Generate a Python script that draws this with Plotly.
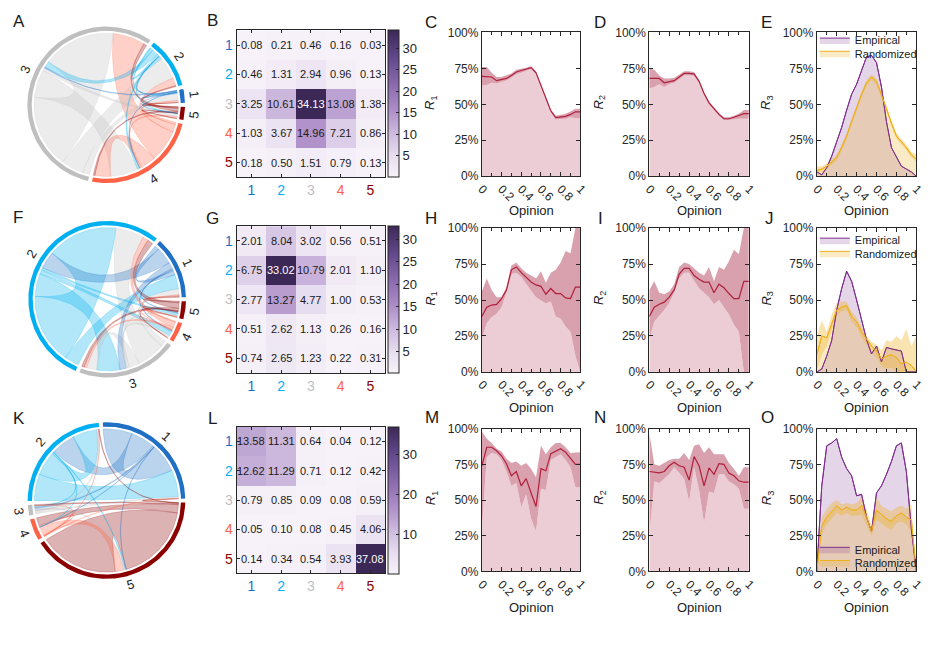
import numpy as np
import plotly.graph_objects as go

W, H = 944, 646
FONT = "Liberation Sans, Arial, sans-serif"
INK = "#262626"

# ---------------- data ----------------
groups = ["1", "2", "3", "4", "5"]
group_colors = ["#1f6fc5", "#00b0f0", "#bfbfbf", "#ff6347", "#8b0000"]

mat_B = [[0.08, 0.21, 0.46, 0.16, 0.03],
         [0.46, 1.31, 2.94, 0.96, 0.13],
         [3.25, 10.61, 34.13, 13.08, 1.38],
         [1.03, 3.67, 14.96, 7.21, 0.86],
         [0.18, 0.50, 1.51, 0.79, 0.13]]
mat_G = [[2.01, 8.04, 3.02, 0.56, 0.51],
         [6.75, 33.02, 10.79, 2.01, 1.10],
         [2.77, 13.27, 4.77, 1.00, 0.53],
         [0.51, 2.62, 1.13, 0.26, 0.16],
         [0.74, 2.65, 1.23, 0.22, 0.31]]
mat_L = [[13.58, 11.31, 0.64, 0.04, 0.12],
         [12.62, 11.29, 0.71, 0.12, 0.42],
         [0.79, 0.85, 0.09, 0.08, 0.59],
         [0.05, 0.10, 0.08, 0.45, 4.06],
         [0.14, 0.34, 0.54, 3.93, 37.08]]
cbar_ticks_B = [5, 10, 15, 20, 25, 30]
cbar_ticks_G = [5, 10, 15, 20, 25, 30]
cbar_ticks_L = [10, 20, 30]

pct_ticks = [0, 25, 50, 75, 100]
pct_labels = ["0%", "25%", "50%", "75%", "100%"]

opinion = [0, 0.05, 0.1, 0.15, 0.2, 0.25, 0.3, 0.35, 0.4, 0.45, 0.5,
           0.55, 0.6, 0.65, 0.7, 0.75, 0.8, 0.85, 0.9, 0.95, 1.0]

C_mean = [69.5, 69.5, 69, 66.5, 67, 68, 70, 72.5, 73.5, 74.5, 75.5, 72, 63, 54, 45.5, 40.7, 41, 41.6, 43, 44.8, 44.8]
C_up = [76, 76, 72, 69, 69, 70, 71.5, 74, 74.5, 75.5, 76.5, 73, 64, 55, 46.5, 42, 42.5, 43.5, 45, 47, 47]
C_lo = [63, 63.5, 65, 64.5, 65.5, 66.5, 68.5, 71, 72, 73, 74.5, 71, 62, 53, 44.5, 39.5, 39.5, 40, 41, 40.5, 40]

D_mean = [68, 68, 68, 65, 66, 66.5, 69, 71.5, 71.5, 71, 66, 57.5, 51, 47, 43, 40, 40, 41, 42, 43.5, 43.5]
D_up = [75, 74, 70, 68, 68, 68.5, 70.5, 73, 73, 72.5, 67, 58.5, 52, 48, 44, 41, 41, 42, 43.5, 46, 46]
D_lo = [61, 62, 64, 62, 64, 65, 67.5, 70, 70, 70, 65, 56.5, 50, 46, 42, 39, 39, 39.5, 40, 40, 40]

E_emp = [3, 1, 6, 14, 24, 34, 46, 57, 64, 73, 83, 84, 79, 62, 38, 20, 13, 7, 5, 3, 0]
E_rnd = [4, 5, 7, 10, 13, 20, 28, 38, 48, 57, 65, 69, 66, 57, 47, 37, 28, 24, 20, 15, 12]
E_rnd_up = [7, 7, 9, 12, 15, 22, 30, 40, 50, 59, 67, 71, 68, 59, 49, 39, 30, 26, 22, 17, 15]
E_rnd_lo = [2, 3, 5, 8, 11, 18, 26, 36, 46, 55, 63, 67, 64, 55, 45, 35, 26, 22, 18, 13, 10]

H_mean = [38.5, 45, 46.5, 47, 51, 57, 71, 73, 69, 65.5, 62.5, 60.5, 59.5, 54, 58, 54.5, 54.5, 51.5, 51, 59, 59]
H_up = [56, 65, 57, 52, 52, 59, 74, 76, 72, 69, 67, 65, 70, 62, 69, 71, 76, 84, 82.5, 100, 100]
H_lo = [23, 34, 38, 40.5, 45, 55, 68, 69, 66, 61, 56.5, 52, 49.5, 47.5, 49, 38.5, 37, 31.5, 28, 11, 0]

I_mean = [38.5, 45, 47, 48.5, 52, 57, 68, 72, 72, 67, 64.5, 62.5, 62.5, 55, 61, 58.5, 54.5, 51, 51, 63, 63]
I_up = [57, 63, 55, 54, 56, 61, 73, 76, 75, 72, 69, 67, 73, 63, 73, 71, 77, 85, 82, 100, 100]
I_lo = [23, 35, 39, 43, 48, 55, 65, 69, 69, 63, 58, 55, 52, 47, 50, 45, 40, 33, 28, 0, 0]

J_emp = [0, 2, 11, 22, 43, 58, 70, 63, 50, 36, 22.5, 12.5, 18, 7, 17, 16, 15, 14.5, 0, 0, 0]
J_rnd = [12, 25, 23.7, 33, 43, 45, 46, 38.5, 35, 28, 22.6, 18, 14.7, 9, 11, 12, 10, 5.6, 6.8, 4.5, 0.5]
J_rnd_up = [25, 36, 28, 40, 48, 49, 49, 42, 38, 31, 25, 21, 19, 15, 22, 21, 25, 22, 30, 18, 25]
J_rnd_lo = [0, 12, 18, 28, 39, 42, 43, 35, 31, 24, 19, 14, 10, 4, 2, 3, 0, 0, 0, 0, 0]

M_mean = [74, 87, 87, 84.5, 81, 75.5, 67, 70, 60, 65, 55, 45.5, 72, 70.5, 82.5, 84, 86, 83.5, 79, 75, 75]
M_up = [98, 93, 90, 86, 84, 79, 76, 77, 74, 76, 72, 66, 88, 82, 87, 90, 90, 87, 83, 83.5, 83.5]
M_lo = [30, 80, 83, 82, 78, 70, 60, 62, 45, 54, 37, 28, 58, 57, 78, 80, 82, 78, 73, 59, 59]

N_mean = [70, 69.5, 69, 70, 74, 76.5, 74, 73, 64, 80.5, 74, 60, 72.5, 68, 75.5, 75, 69, 67, 63.5, 62.5, 62.5]
N_up = [97, 75, 74, 76, 78, 79, 79, 83, 78, 88, 89, 83, 87, 82, 82, 82, 76, 72, 67, 73, 73]
N_lo = [25, 63, 62, 65, 68, 73, 69, 65, 49, 73, 57, 34, 56, 55, 68, 68, 63, 61, 58, 44, 44]

O_emp = [0, 60, 88, 90, 93, 80, 72, 67, 53, 54, 38, 28, 55, 60, 68, 77, 88, 90, 70, 30, 0]
O_rnd = [0, 32, 38, 42, 46, 43, 45, 43, 43, 46, 38, 28, 43, 40, 37, 35, 39, 41, 38, 36, 0]
O_rnd_up = [0, 38, 44, 48, 50, 47, 48, 47, 48, 52, 44, 32, 52, 46, 44, 42, 45, 46, 44, 47, 0]
O_rnd_lo = [0, 26, 33, 37, 41, 39, 41, 39, 39, 40, 33, 25, 36, 34, 31, 29, 34, 35, 33, 28, 0]

# ---------------- helpers ----------------
fig = go.Figure()
layout = {}
annotations = []
axn = [0]


def px2x(a, b):
    return [a / W, b / W]


def px2y(top, bot):
    return [1 - bot / H, 1 - top / H]


def new_axes(xd, yd, xopt, yopt):
    axn[0] += 1
    k = axn[0]
    sx = "" if k == 1 else str(k)
    layout["xaxis" + sx] = dict(domain=xd, anchor="y" + sx, **xopt)
    layout["yaxis" + sx] = dict(domain=yd, anchor="x" + sx, **yopt)
    return "x" + sx, "y" + sx


def rgba(hexc, a):
    h = hexc.lstrip("#")
    return "rgba(%d,%d,%d,%s)" % (int(h[0:2], 16), int(h[2:4], 16), int(h[4:6], 16), a)


def arc_pts(a1, a2, r):
    n = max(2, int(abs(a2 - a1) / 1.5) + 2)
    t = np.radians(np.linspace(a1, a2, n))
    return list(r * np.cos(t)), list(r * np.sin(t))


def bez(p0, p2, n=30):
    t = np.linspace(0, 1, n)
    x = (1 - t) ** 2 * p0[0] + t ** 2 * p2[0]
    y = (1 - t) ** 2 * p0[1] + t ** 2 * p2[1]
    return list(x), list(y)


def draw_chord(M, cx, cy):
    M = np.array(M, float)
    n = len(M)
    hid = dict(visible=False, range=[-1.25, 1.25], fixedrange=True)
    xr, yr = new_axes(px2x(cx - 100, cx + 100), px2y(cy - 100, cy + 100), hid, hid)
    seg = M.sum(1) + M.sum(0)
    gap = 3.0
    scale = (360 - n * gap) / seg.sum()
    starts = []
    a = gap / 2
    for i in range(n):
        starts.append(a)
        a += seg[i] * scale + gap
    pos = {}
    for i in range(n):
        cur = starts[i] + seg[i] * scale   # walk clockwise from the segment's far end
        for j in range(n):
            v = M[i, j] * scale
            pos[(i, j, "o")] = (cur - v, cur)
            cur -= v
        for j in range(n):
            v = M[j, i] * scale
            pos[(j, i, "i")] = (cur - v, cur)
            cur -= v
    R = 0.915

    def P(ang):
        return (R * np.cos(np.radians(ang)), R * np.sin(np.radians(ang)))
    pairs = sorted([(i, j) for i in range(n) for j in range(n)], key=lambda p: -M[p])
    for (i, j) in pairs:
        a1, a2 = pos[(i, j, "o")]
        b1, b2 = pos[(i, j, "i")]
        xs, ys = [], []
        for sp in (arc_pts(a1, a2, R), bez(P(a2), P(b1)), arc_pts(b1, b2, R), bez(P(b2), P(a1))):
            xs += sp[0]
            ys += sp[1]
        fig.add_trace(go.Scatter(x=xs, y=ys, mode="lines", fill="toself",
                                 fillcolor=rgba(group_colors[i], 0.3),
                                 line=dict(width=0.6, color=rgba(group_colors[i], 0.35)),
                                 hoverinfo="skip", showlegend=False, xaxis=xr, yaxis=yr))
    for i in range(n):
        s = starts[i]
        e = s + seg[i] * scale
        ox, oy = arc_pts(s, e, 1.0)
        ix, iy = arc_pts(e, s, 0.945)
        fig.add_trace(go.Scatter(x=ox + ix, y=oy + iy, mode="lines", fill="toself",
                                 fillcolor=group_colors[i], line=dict(width=0),
                                 hoverinfo="skip", showlegend=False, xaxis=xr, yaxis=yr))
        m = (s + e) / 2
        ang = (90 - m) if m < 180 else (270 - m)
        ang = ((ang + 180) % 360) - 180
        annotations.append(dict(x=1.12 * np.cos(np.radians(m)), y=1.12 * np.sin(np.radians(m)),
                                xref=xr, yref=yr, text=groups[i], showarrow=False,
                                textangle=ang, font=dict(size=13, color="#222")))


purple = [[0, "#f7f2f9"], [0.15, "#e6dcef"], [0.3, "#cdb9de"], [0.45, "#ae8fc8"],
          [0.6, "#9070b2"], [0.8, "#664a8f"], [1, "#3c2857"]]


def draw_heat(M, top, cticks):
    tt = ['<span style="color:%s">%s</span>' % (c, g) for g, c in zip(groups, group_colors)]
    ax = dict(showline=True, linecolor=INK, linewidth=1, mirror="ticks", ticks="inside",
              ticklen=3, tickcolor=INK, tickvals=[1, 2, 3, 4, 5], ticktext=tt,
              tickfont=dict(size=14), showgrid=False, zeroline=False, fixedrange=True)
    xr, yr = new_axes(px2x(234, 385), px2y(top, top + 150),
                      dict(ax, range=[0.5, 5.5]), dict(ax, range=[5.5, 0.5]))
    z = np.array(M)
    zmin, zmax = float(z.min()), float(z.max())
    fig.add_trace(go.Heatmap(z=M, x=[1, 2, 3, 4, 5], y=[1, 2, 3, 4, 5], colorscale=purple,
                             zmin=zmin, zmax=zmax, xaxis=xr, yaxis=yr, hoverinfo="skip",
                             colorbar=dict(x=388 / W, xanchor="left", y=1 - (top + 75) / H,
                                           yanchor="middle", len=150 / H, lenmode="fraction",
                                           thickness=11, thicknessmode="pixels",
                                           outlinewidth=1, outlinecolor=INK, ticks="inside",
                                           ticklen=3, tickcolor=INK, tickvals=cticks,
                                           tickfont=dict(size=13, color=INK), xpad=0, ypad=0)))
    for i in range(5):
        for j in range(5):
            v = M[i][j]
            annotations.append(dict(x=j + 1, y=i + 1, xref=xr, yref=yr, text="%.2f" % v,
                                    showarrow=False,
                                    font=dict(size=11, color="white" if v > 0.75 * zmax else "#1a1a1a")))


def line_axes(x0, x1, top, bot):
    common = dict(showline=True, linecolor=INK, linewidth=1, mirror="ticks", ticks="inside",
                  ticklen=4, tickcolor=INK, showgrid=False, zeroline=False,
                  tickfont=dict(size=12, color=INK), fixedrange=True)
    xopt = dict(common, range=[0, 1], tick0=0, dtick=0.2, tickangle=45,
                minor=dict(ticks="inside", ticklen=3, tick0=0, dtick=0.1, tickcolor=INK))
    yopt = dict(common, range=[0, 100], tickmode="array", tickvals=pct_ticks, ticktext=pct_labels)
    return new_axes(px2x(x0, x1), px2y(top, bot), xopt, yopt)


LIGHT = "#eccdd5"
BAND = "#d9a0ae"
RED = "#b01f3c"
PURP = "#7e2f8e"
ORNG = "#edb120"


def r_panel(ax, mean, up, lo):
    xr, yr = ax
    fig.add_trace(go.Scatter(x=opinion, y=lo, mode="lines", fill="tozeroy", fillcolor=LIGHT,
                             line=dict(width=0), hoverinfo="skip", showlegend=False, xaxis=xr, yaxis=yr))
    fig.add_trace(go.Scatter(x=opinion, y=up, mode="lines", fill="tonexty", fillcolor=BAND,
                             line=dict(width=0), hoverinfo="skip", showlegend=False, xaxis=xr, yaxis=yr))
    fig.add_trace(go.Scatter(x=opinion, y=mean, mode="lines", line=dict(width=1.2, color=RED),
                             hoverinfo="skip", showlegend=False, xaxis=xr, yaxis=yr))


def r3_panel(ax, emp, rnd, up, lo, leg_a, leg_b):
    xr, yr = ax
    fig.add_trace(go.Scatter(x=opinion, y=emp, mode="lines", fill="tozeroy",
                             fillcolor="rgba(126,47,142,0.2)", line=dict(width=1, color=PURP),
                             name="Empirical", legend=leg_a, hoverinfo="skip", xaxis=xr, yaxis=yr))
    fig.add_trace(go.Scatter(x=opinion, y=rnd, mode="lines", fill="tozeroy",
                             fillcolor="rgba(237,177,32,0.25)", line=dict(width=1, color=ORNG),
                             name="Randomized", legend=leg_b, hoverinfo="skip", xaxis=xr, yaxis=yr))
    fig.add_trace(go.Scatter(x=opinion, y=lo, mode="lines", line=dict(width=0),
                             hoverinfo="skip", showlegend=False, xaxis=xr, yaxis=yr))
    fig.add_trace(go.Scatter(x=opinion, y=up, mode="lines", fill="tonexty",
                             fillcolor="rgba(237,177,32,0.35)", line=dict(width=0),
                             hoverinfo="skip", showlegend=False, xaxis=xr, yaxis=yr))
    fig.add_trace(go.Scatter(x=opinion, y=emp, mode="lines", line=dict(width=1, color=PURP),
                             hoverinfo="skip", showlegend=False, xaxis=xr, yaxis=yr))
    fig.add_trace(go.Scatter(x=opinion, y=rnd, mode="lines", line=dict(width=1, color=ORNG),
                             hoverinfo="skip", showlegend=False, xaxis=xr, yaxis=yr))


# ---------------- build ----------------
draw_chord(mat_B, 101.7, 100)
draw_chord(mat_G, 102.7, 298.7)
draw_chord(mat_L, 102, 504.5)

draw_heat(mat_B, 24, cbar_ticks_B)
draw_heat(mat_G, 224, cbar_ticks_G)
draw_heat(mat_L, 429, cbar_ticks_L)

rows = [(26, 173), (226, 373), (431, 577)]
cols = [(483, 583), (653, 754), (823, 924)]

r_panel(line_axes(*cols[0], *rows[0]), C_mean, C_up, C_lo)
r_panel(line_axes(*cols[1], *rows[0]), D_mean, D_up, D_lo)
r3_panel(line_axes(*cols[2], *rows[0]), E_emp, E_rnd, E_rnd_up, E_rnd_lo, "legend", "legend2")
r_panel(line_axes(*cols[0], *rows[1]), H_mean, H_up, H_lo)
r_panel(line_axes(*cols[1], *rows[1]), I_mean, I_up, I_lo)
r3_panel(line_axes(*cols[2], *rows[1]), J_emp, J_rnd, J_rnd_up, J_rnd_lo, "legend3", "legend4")
r_panel(line_axes(*cols[0], *rows[2]), M_mean, M_up, M_lo)
r_panel(line_axes(*cols[1], *rows[2]), N_mean, N_up, N_lo)
r3_panel(line_axes(*cols[2], *rows[2]), O_emp, O_rnd, O_rnd_up, O_rnd_lo, "legend5", "legend6")


def paper_text(text, x, y, size, angle=0):
    annotations.append(dict(x=x / W, y=1 - y / H, xref="paper", yref="paper", text=text,
                            showarrow=False, xanchor="center", yanchor="middle",
                            textangle=angle, font=dict(size=size, color="#1a1a1a")))


letters = [("A", 13, 15), ("B", 209.5, 14), ("C", 431, 16), ("D", 603, 16), ("E", 772, 16),
           ("F", 12, 215.5), ("G", 210, 216), ("H", 431, 216), ("I", 603, 216), ("J", 775, 216),
           ("K", 13.3, 421), ("L", 209.5, 421), ("M", 432.5, 420), ("N", 603, 420), ("O", 773, 420)]
for t, x, y in letters:
    paper_text(t, x, y, 17)

r_y = [98, 298, 502]
r_x = [431.5, 602.5, 772.5]
for ry in r_y:
    for k, rx in enumerate(r_x):
        paper_text("<i>R</i><sub>%d</sub>" % (k + 1), rx, ry, 13, angle=-90)

op_y = [208, 409, 614]
for oy in op_y:
    for (x0, x1) in cols:
        paper_text("Opinion", (x0 + x1) / 2, oy, 13)

leg_common = dict(xanchor="left", yanchor="top", bgcolor="rgba(0,0,0,0)", borderwidth=0,
                  font=dict(size=11, color="#1a1a1a"), itemwidth=30, traceorder="normal")
leg_tops = [("legend", 19), ("legend2", 32.5), ("legend3", 223.5), ("legend4", 237),
            ("legend5", 539.5), ("legend6", 553)]
for name, top in leg_tops:
    layout[name] = dict(leg_common, x=821 / W, y=1 - top / H)

fig.update_layout(width=W, height=H, margin=dict(l=0, r=0, t=0, b=0),
                  paper_bgcolor="white", plot_bgcolor="white",
                  font=dict(family=FONT, color=INK), annotations=annotations,
                  hovermode=False, **layout)

fig.write_html("out.html", include_plotlyjs=True, config={"displayModeBar": False})
